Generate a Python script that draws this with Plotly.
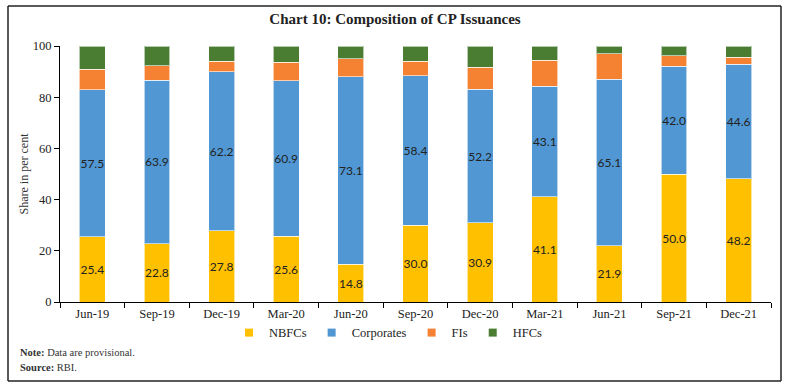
import plotly.graph_objects as go

quarters = ["Jun-19", "Sep-19", "Dec-19", "Mar-20", "Jun-20", "Sep-20",
            "Dec-20", "Mar-21", "Jun-21", "Sep-21", "Dec-21"]
nbfcs = [25.4, 22.8, 27.8, 25.6, 14.8, 30.0, 30.9, 41.1, 21.9, 50.0, 48.2]
corporates = [57.5, 63.9, 62.2, 60.9, 73.1, 58.4, 52.2, 43.1, 65.1, 42.0, 44.6]
fis = [8.0, 5.5, 4.1, 7.1, 7.1, 5.6, 8.6, 10.3, 10.0, 4.1, 2.9]
hfcs = [9.1, 7.8, 5.9, 6.4, 5.0, 6.0, 8.3, 5.5, 3.0, 3.9, 4.3]
y_ticks = [0, 20, 40, 60, 80, 100]

series = [
    ("NBFCs", nbfcs, "#FFC000", True),
    ("Corporates", corporates, "#5097D3", True),
    ("FIs", fis, "#F58232", False),
    ("HFCs", hfcs, "#4A7D32", False),
]

fig = go.Figure()
for name, vals, color, labelled in series:
    fig.add_trace(go.Bar(
        name=name, x=quarters, y=vals, legendgroup=name, showlegend=False,
        marker=dict(color=color, line=dict(color="rgba(255,255,255,0.6)", width=1)),
        text=[f"{v:.1f}" for v in vals] if labelled else None,
        textposition="inside" if labelled else "none",
        insidetextanchor="middle",
        constraintext="none",
        textangle=0,
        textfont=dict(family="Lato", size=12, color="#222222"),
        hoverinfo="x+y+name",
    ))
# legend entries with small square keys
for name, vals, color, labelled in series:
    fig.add_trace(go.Scatter(
        name=name, x=[None], y=[None], mode="markers", legendgroup=name,
        marker=dict(symbol="square", size=8, color=color), hoverinfo="skip",
    ))

# outer frame (paper coordinates relative to the plot area)
fx0, fx1 = (8 - 60) / 711, (781 - 60) / 711
fy0, fy1 = (302 - 381) / 256, (302 - 6) / 256
frame = [
    dict(type="line", xref="paper", yref="paper", x0=fx0, x1=fx1, y0=fy1, y1=fy1),
    dict(type="line", xref="paper", yref="paper", x0=fx0, x1=fx1, y0=fy0, y1=fy0),
    dict(type="line", xref="paper", yref="paper", x0=fx0, x1=fx0, y0=fy0, y1=fy1),
    dict(type="line", xref="paper", yref="paper", x0=fx1, x1=fx1, y0=fy0, y1=fy1),
]
for s in frame:
    s.update(layer="above", line=dict(color="#222222", width=1.5))

fig.update_layout(
    barmode="stack",
    bargap=0.6,
    width=790, height=388,
    margin=dict(l=60, r=19, t=46, b=86),
    paper_bgcolor="white", plot_bgcolor="white",
    font=dict(family="Liberation Serif", size=12, color="#222222"),
    title=dict(text="<b>Chart 10: Composition of CP Issuances</b>",
               x=0.5, xanchor="center", y=0.951, yanchor="middle",
               font=dict(family="Liberation Serif", size=15, color="#222222")),
    legend=dict(orientation="h", x=0.462, xanchor="center", y=-0.121, yanchor="middle",
                font=dict(family="Liberation Serif", size=12.5, color="#222222"),
                traceorder="normal", bgcolor="rgba(0,0,0,0)", itemwidth=30),
    xaxis=dict(showline=True, linecolor="#000000", linewidth=1,
               ticks="outside", tickson="boundaries", ticklen=5, tickcolor="#000000",
               showgrid=False, tickfont=dict(family="Liberation Serif", size=12.5)),
    yaxis=dict(range=[0, 100], tickvals=y_ticks, showline=True, linecolor="#000000",
               linewidth=1, ticks="outside", ticklen=5, tickcolor="#000000",
               showgrid=False, zeroline=False,
               tickfont=dict(family="Liberation Serif", size=12.5),
               title=dict(text="Share in per cent", standoff=1,
                          font=dict(family="Liberation Serif", size=12, color="#333333"))),
    shapes=frame,
    annotations=[
        dict(text="<b>Note:</b> Data are provisional.", xref="paper", yref="paper",
             x=(18 - 60) / 711, y=(302 - 352) / 256, xanchor="left", yanchor="middle",
             showarrow=False, font=dict(family="Liberation Serif", size=10.5, color="#333333")),
        dict(text="<b>Source:</b> RBI.", xref="paper", yref="paper",
             x=(18 - 60) / 711, y=(302 - 367) / 256, xanchor="left", yanchor="middle",
             showarrow=False, font=dict(family="Liberation Serif", size=10.5, color="#333333")),
    ],
)

fig.write_html("out.html", config={"displayModeBar": False},
               post_script="document.body.style.margin='0';")
